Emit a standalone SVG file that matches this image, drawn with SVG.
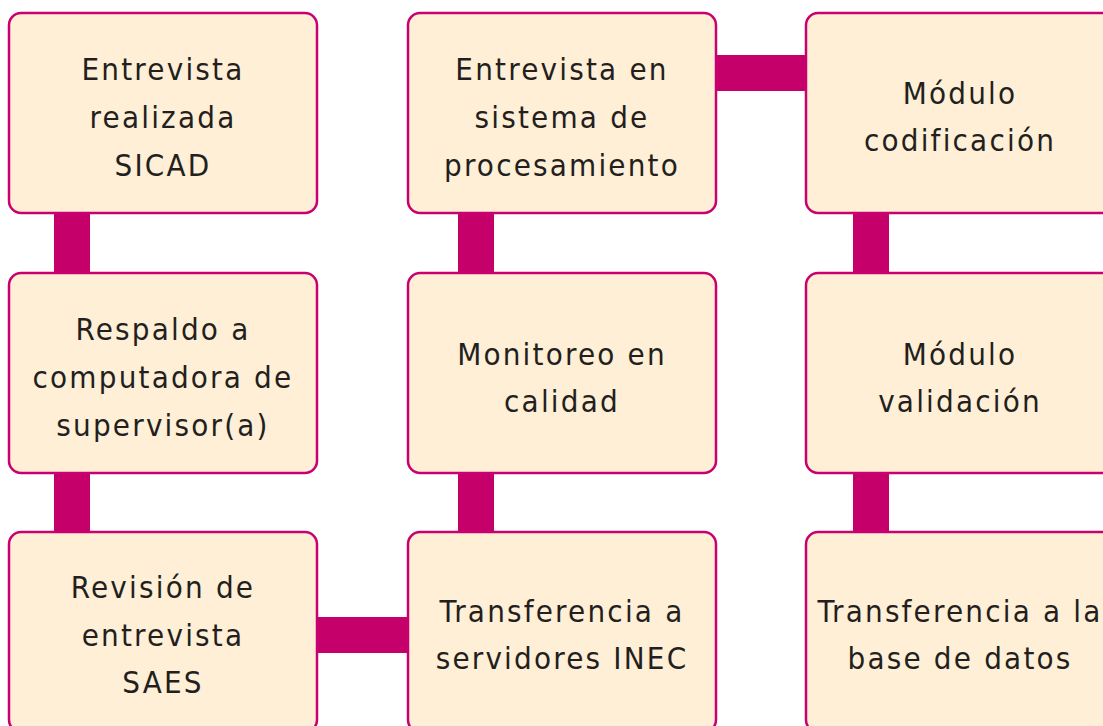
<svg xmlns="http://www.w3.org/2000/svg" width="1103" height="726" viewBox="0 0 1103 726">
<style>
.box{fill:#FEEFD6;stroke:#C9006F;stroke-width:2.5}
.bar{fill:#C5006B}
.t{font-family:"DejaVu Sans Condensed","DejaVu Sans","Liberation Sans",sans-serif;font-size:31px;fill:#231F20;text-anchor:middle;letter-spacing:2.2px}
</style>
<rect width="1103" height="726" fill="#FFFFFF"/>
<g id="connectors">
<rect class="bar" x="54" y="212" width="36" height="62"/>
<rect class="bar" x="54" y="472" width="36" height="61"/>
<rect class="bar" x="458" y="212" width="36" height="62"/>
<rect class="bar" x="458" y="472" width="36" height="61"/>
<rect class="bar" x="853" y="212" width="36" height="62"/>
<rect class="bar" x="853" y="472" width="36" height="61"/>
<rect class="bar" x="316" y="617" width="92" height="36"/>
<rect class="bar" x="715" y="55" width="92" height="36"/>
</g>
<g id="n1">
<rect class="box" x="9" y="13" width="308" height="200" rx="12"/>
<text class="t" x="163" y="80">Entrevista</text>
<text class="t" x="163" y="128">realizada</text>
<text class="t" x="163" y="176">SICAD</text>
</g>
<g id="n2">
<rect class="box" x="9" y="273" width="308" height="200" rx="12"/>
<text class="t" x="163" y="340">Respaldo a</text>
<text class="t" x="163" y="388">computadora de</text>
<text class="t" x="163" y="436">supervisor(a)</text>
</g>
<g id="n3">
<rect class="box" x="9" y="532" width="308" height="200" rx="12"/>
<text class="t" x="163" y="598">Revisión de</text>
<text class="t" x="163" y="646">entrevista</text>
<text class="t" x="163" y="693">SAES</text>
</g>
<g id="n4">
<rect class="box" x="408" y="13" width="308" height="200" rx="12"/>
<text class="t" x="562" y="80">Entrevista en</text>
<text class="t" x="562" y="128">sistema de</text>
<text class="t" x="562" y="176">procesamiento</text>
</g>
<g id="n5">
<rect class="box" x="408" y="273" width="308" height="200" rx="12"/>
<text class="t" x="562" y="365">Monitoreo en</text>
<text class="t" x="562" y="412">calidad</text>
</g>
<g id="n6">
<rect class="box" x="408" y="532" width="308" height="200" rx="12"/>
<text class="t" x="562" y="622">Transferencia a</text>
<text class="t" x="562" y="669">servidores INEC</text>
</g>
<g id="n7">
<rect class="box" x="806" y="13" width="308" height="200" rx="12"/>
<text class="t" x="960" y="104">Módulo</text>
<text class="t" x="960" y="151">codificación</text>
</g>
<g id="n8">
<rect class="box" x="806" y="273" width="308" height="200" rx="12"/>
<text class="t" x="960" y="365">Módulo</text>
<text class="t" x="960" y="412">validación</text>
</g>
<g id="n9">
<rect class="box" x="806" y="532" width="308" height="200" rx="12"/>
<text class="t" x="960" y="622">Transferencia a la</text>
<text class="t" x="960" y="669">base de datos</text>
</g>
</svg>
